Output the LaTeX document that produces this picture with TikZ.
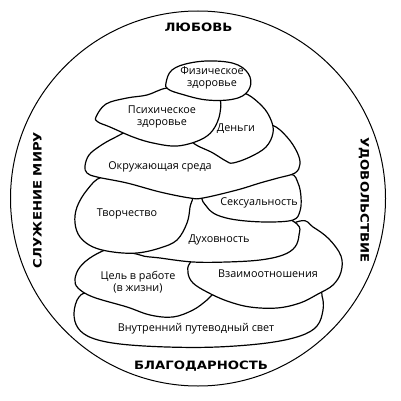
\documentclass[tikz,border=0pt]{standalone}
\usepackage{fontspec}
\setmainfont{Open Sans}
\newfontfamily\labfont{DejaVu Sans}[FakeStretch=1.15]
\begin{document}
\begin{tikzpicture}[x=1pt,y=-1pt,
  stone/.style={draw=black,fill=white,line width=1.2pt,line join=round},
  txt/.style={font=\fontsize{10.8}{12}\selectfont,align=center,inner sep=0pt},
  lab/.style={font=\labfont\bfseries\fontsize{11.5}{12}\selectfont,inner sep=0pt}]
\useasboundingbox (0,0) rectangle (400,401);
\draw[line width=1pt] (198,198.5) circle (187.5);
% Inner light
\draw[stone] plot[smooth cycle,tension=0.6] coordinates {(79,297) (74,313) (78,328) (92,338) (120,344) (167,347) (217,347) (267,343) (300,336) (317,326) (323,310) (322,296) (315,286) (260,287) (200,289) (140,289) (92,292)};
% Purpose
\draw[stone] plot[smooth cycle,tension=0.6] coordinates {(112,248) (93,256) (80,267) (75,279) (78,288) (93,297) (127,307) (150,315) (173,317) (193,310) (207,300) (213,294) (220,282) (215,262) (180,250) (140,246)};
% Relations
\draw[stone] plot[smooth cycle,tension=0.6] coordinates {(190,263) (188,273) (193,283) (207,292) (227,301) (250,307) (277,308) (300,303) (318,294) (333,285) (341,272) (341,256) (329,239) (313,227) (300,221) (260,238) (205,252)};
% Spirituality
\draw[stone] plot[smooth cycle,tension=0.6] coordinates {(126,245) (140,255) (160,258) (193,262) (227,262) (260,260) (283,255) (295,247) (299,235) (297,224) (270,210) (230,198) (200,192) (160,205)};
% Creativity
\draw[stone] plot[smooth cycle,tension=0.6] coordinates {(102,177) (87,190) (77,207) (75,223) (80,237) (93,247) (113,252) (137,253) (160,248) (177,240) (187,223) (190,207) (191,194) (165,184) (130,178)};
% Sexuality
\draw[stone] plot[smooth cycle,tension=0.6] coordinates {(203,196) (207,207) (217,215) (237,220) (267,222) (293,220) (300,211) (301,197) (298,183) (290,174) (260,178) (228,188)};
% Environment
\draw[stone] plot[smooth cycle,tension=0.6] coordinates {(85,166) (89,155) (100,146) (114,138) (135,129) (175,125) (215,128) (250,124) (272,125) (287,137) (297,152) (300,164) (295,173) (278,178) (260,183) (237,190) (203,198) (190,198) (160,192) (127,183) (97,177) (87,173)};
% Money
\draw[stone] plot[smooth cycle,tension=0.6] coordinates {(244,93) (262,106) (271,120) (273,133) (266,147) (250,157) (233,163) (226,161) (213,153) (191,140) (205,122) (225,95)};
% Psych
\draw[stone] plot[smooth cycle,tension=0.6] coordinates {(96,117) (106,104) (127,98) (147,95) (167,88) (195,88) (218,96) (220,113) (213,130) (200,140) (177,146) (153,143) (133,137) (110,127) (98,122)};
% Physical
\draw[stone] plot[smooth cycle,tension=0.65] coordinates {(166,83) (172,70) (190,63) (215,61) (238,65) (250,77) (248,91) (234,99) (207,100) (181,94) (168,89)};
% texts
\node[txt] (tphys) at (212,78) {Физическое\\здоровье};
\node[txt] (tpsy) at (162,117) {Психическое\\здоровье};
\node[txt] (tmon) at (236,129) {Деньги};
\node[txt] (tenv) at (160,167) {Окружающая среда};
\node[txt] (tcre) at (127,214) {Творчество};
\node[txt] (tsex) at (259,203) {Сексуальность};
\node[txt] (tspi) at (219,240) {Духовность};
\node[txt] (tpur) at (138,282) {Цель в работе\\(в жизни)};
\node[txt] (trel) at (268,274) {Взаимоотношения};
\node[txt] (tinn) at (196,329) {Внутренний путеводный свет};
% labels
\node[lab] (love) at (198.5,27) {ЛЮБОВЬ};
\node[lab] (grat) at (201,366) {БЛАГОДАРНОСТЬ};
\node[lab,rotate=90] (serv) at (37.5,200) {СЛУЖЕНИЕ МИРУ};
\node[lab,rotate=-90] (pleas) at (364,200) {УДОВОЛЬСТВИЕ};
\end{tikzpicture}
\end{document}
